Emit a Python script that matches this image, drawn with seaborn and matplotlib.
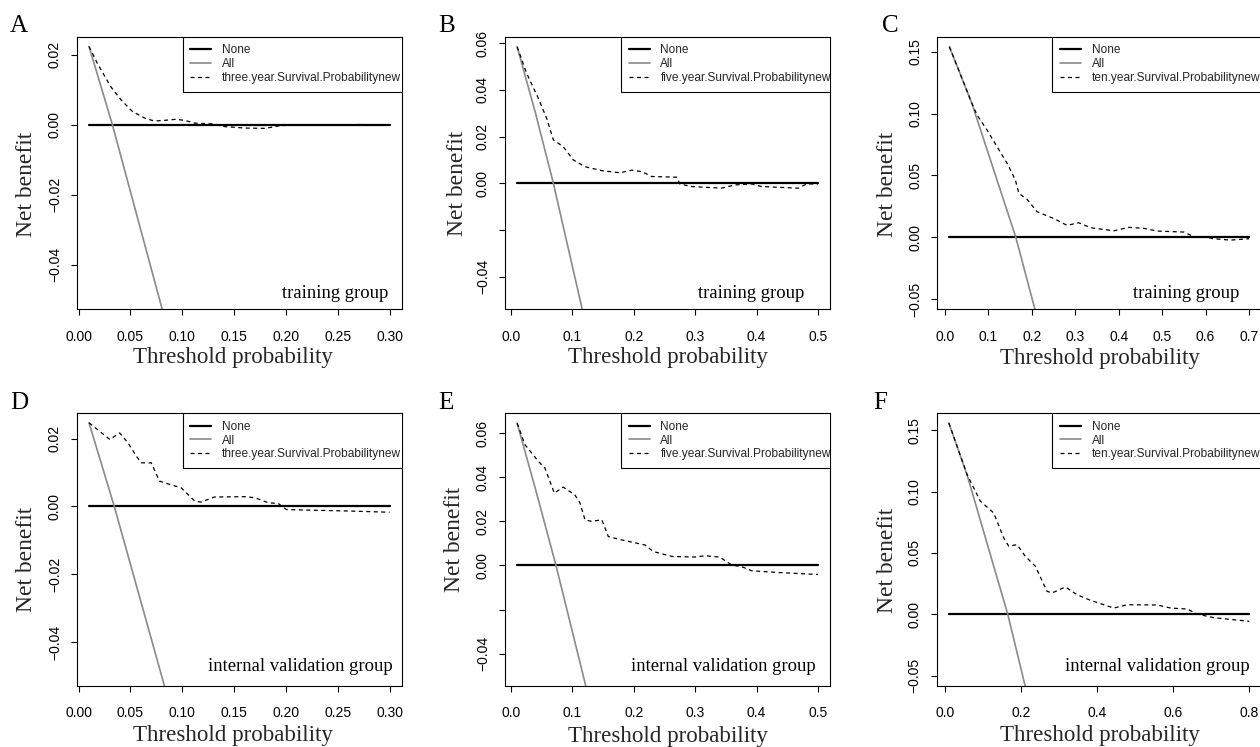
import matplotlib
matplotlib.use("Agg")
import matplotlib.pyplot as plt
import pandas as pd
import seaborn as sns

# ---------------------------------------------------------------------------
# Decision-curve data: net benefit of each model across threshold probabilities
# ---------------------------------------------------------------------------
thr_a = [0.01, 0.018, 0.031, 0.041, 0.052, 0.064, 0.073, 0.083, 0.094, 0.102, 0.112,
         0.128, 0.141, 0.160, 0.180, 0.193, 0.206, 0.22, 0.25, 0.27, 0.30]
nb_a = [0.0224, 0.0176, 0.0109, 0.0071, 0.0038, 0.0019, 0.0011, 0.0013, 0.0016, 0.0013,
        0.0005, 0.0003, -0.0005, -0.0009, -0.0010, -0.0003, 0.0000, 0.0000, -0.0001,
        0.0001, 0.0000]

thr_b = [0.01, 0.0255, 0.0445, 0.058, 0.069, 0.085, 0.1015, 0.1205, 0.148, 0.1775, 0.1965,
         0.213, 0.229, 0.270, 0.275, 0.294, 0.343, 0.365, 0.392, 0.408, 0.468, 0.4815, 0.50]
nb_b = [0.0585, 0.0471, 0.0364, 0.0279, 0.0186, 0.0157, 0.0100, 0.0071, 0.0054, 0.0045,
        0.0056, 0.0050, 0.0029, 0.0026, -0.0003, -0.0014, -0.0021, -0.0007, -0.0003,
        -0.0014, -0.0021, -0.0003, -0.0003]

thr_c = [0.01, 0.062, 0.0737, 0.0968, 0.1198, 0.143, 0.162, 0.170, 0.189, 0.212, 0.250,
         0.281, 0.308, 0.335, 0.389, 0.423, 0.458, 0.488, 0.550, 0.573, 0.596, 0.619,
         0.657, 0.70]
nb_c = [0.154, 0.1082, 0.0988, 0.0867, 0.0732, 0.0598, 0.0463, 0.0355, 0.0307, 0.0207,
        0.0153, 0.0097, 0.0118, 0.0078, 0.0053, 0.0081, 0.0073, 0.0051, 0.0043, 0.0005,
        0.0005, -0.0011, -0.0022, -0.0011]

thr_d = [0.01, 0.0203, 0.030, 0.0396, 0.0476, 0.0556, 0.0605, 0.070, 0.078, 0.086, 0.099,
         0.112, 0.118, 0.131, 0.160, 0.170, 0.183, 0.1925, 0.2005, 0.225, 0.257, 0.30]
nb_d = [0.0247, 0.0222, 0.0198, 0.0217, 0.0188, 0.0149, 0.0129, 0.0129, 0.0075, 0.0067,
        0.0055, 0.0016, 0.0013, 0.0028, 0.0029, 0.0026, 0.0011, 0.0009, -0.0009, -0.0011,
        -0.0013, -0.0017]

thr_e = [0.01, 0.0228, 0.0445, 0.0554, 0.0706, 0.085, 0.104, 0.1124, 0.1205, 0.131, 0.148,
         0.1585, 0.180, 0.218, 0.232, 0.262, 0.30, 0.316, 0.340, 0.359, 0.378, 0.392,
         0.4355, 0.50]
nb_e = [0.0645, 0.0547, 0.0472, 0.0441, 0.0328, 0.0355, 0.0320, 0.0283, 0.0207, 0.0200,
        0.0207, 0.0131, 0.0116, 0.0093, 0.0063, 0.0041, 0.0038, 0.0044, 0.0038, 0.0003,
        -0.0008, -0.0024, -0.0032, -0.0041]

thr_f = [0.01, 0.058, 0.093, 0.128, 0.1545, 0.1675, 0.1895, 0.211, 0.2375, 0.268, 0.2815,
         0.3165, 0.347, 0.3825, 0.444, 0.479, 0.558, 0.593, 0.637, 0.663, 0.707, 0.80]
nb_f = [0.156, 0.1139, 0.0922, 0.0826, 0.0622, 0.0555, 0.0568, 0.0473, 0.0392, 0.0188,
        0.0174, 0.0223, 0.0160, 0.0114, 0.0051, 0.0078, 0.0076, 0.0051, 0.0043, 0.0002,
        -0.0028, -0.0057]

# "Treat all" strategy (runs off the bottom of each panel)
all_thr_a = [0.01, 0.0326, 0.0806]
all_nb_a = [0.0224, 0.0, -0.0527]
all_thr_b = [0.01, 0.04, 0.069, 0.116]
all_nb_b = [0.0585, 0.0300, 0.0, -0.0540]
all_thr_c = [0.01, 0.062, 0.163, 0.207]
all_nb_c = [0.154, 0.1080, 0.0, -0.0581]
all_thr_d = [0.01, 0.0344, 0.0827]
all_nb_d = [0.0247, 0.0, -0.0529]
all_thr_e = [0.01, 0.04, 0.0733, 0.1217]
all_nb_e = [0.0645, 0.0345, 0.0, -0.0545]
all_thr_f = [0.01, 0.058, 0.165, 0.2105]
all_nb_f = [0.156, 0.1137, 0.0, -0.0582]

# "Treat none" strategy spans the evaluated threshold range
none_thr_a = [0.01, 0.30]
none_thr_b = [0.01, 0.50]
none_thr_c = [0.01, 0.70]
none_thr_d = [0.01, 0.30]
none_thr_e = [0.01, 0.50]
none_thr_f = [0.01, 0.80]
none_nb = [0.0, 0.0]

model_names = ["three.year.Survival.Probabilitynew",
               "five.year.Survival.Probabilitynew",
               "ten.year.Survival.Probabilitynew"]
group_names = ["training group", "internal validation group"]
panel_letters = ["A", "B", "C", "D", "E", "F"]

xt_30 = [0.00, 0.05, 0.10, 0.15, 0.20, 0.25, 0.30]
xt_30_lab = ["0.00", "0.05", "0.10", "0.15", "0.20", "0.25", "0.30"]
xt_50 = [0.0, 0.1, 0.2, 0.3, 0.4, 0.5]
xt_50_lab = ["0.0", "0.1", "0.2", "0.3", "0.4", "0.5"]
xt_70 = [0.0, 0.1, 0.2, 0.3, 0.4, 0.5, 0.6, 0.7]
xt_70_lab = ["0.0", "0.1", "0.2", "0.3", "0.4", "0.5", "0.6", "0.7"]
xt_80 = [0.0, 0.2, 0.4, 0.6, 0.8]
xt_80_lab = ["0.0", "0.2", "0.4", "0.6", "0.8"]

yt_3yr = [-0.04, -0.02, 0.00, 0.02]
yt_3yr_lab = ["\u22120.04", "\u22120.02", "0.00", "0.02"]
yt_5yr = [-0.04, -0.02, 0.00, 0.02, 0.04, 0.06]
yt_5yr_lab = ["\u22120.04", "", "0.00", "0.02", "0.04", "0.06"]
yt_10yr = [-0.05, 0.00, 0.05, 0.10, 0.15]
yt_10yr_lab = ["\u22120.05", "0.00", "0.05", "0.10", "0.15"]

# ---------------------------------------------------------------------------
# Styling
# ---------------------------------------------------------------------------
sns.set_style("ticks")
plt.rcParams["font.family"] = ["Liberation Sans", "DejaVu Sans"]
plt.rcParams["axes.edgecolor"] = "black"
plt.rcParams["axes.linewidth"] = 0.8

SERIF = ["Liberation Serif", "DejaVu Serif"]
W, H = 1260, 747
fig = plt.figure(figsize=(W / 100, H / 100), dpi=100)
fig.patch.set_facecolor("white")

# layout of each panel in pixel units (left, top, right, bottom)
panels = [
    dict(box=(77.0, 36.7, 401.6, 309.3), xlim=(-0.0016, 0.3116), ylim=(-0.0527, 0.0252),
         thr=thr_a, nb=nb_a, all_thr=all_thr_a, all_nb=all_nb_a, none_thr=none_thr_a,
         xt=xt_30, xtl=xt_30_lab, yt=yt_3yr, ytl=yt_3yr_lab, model=model_names[0],
         group=group_names[0], leg_left=182.7, grp_xy=(281.7, 297.7),
         letter_xy=(10, 31.5), xlab_xy=(233.3, 363.3), ylab_xy=(31.7, 184.0)),
    dict(box=(505.1, 36.7, 830.0, 309.3), xlim=(-0.0096, 0.5196), ylim=(-0.0540, 0.0628),
         thr=thr_b, nb=nb_b, all_thr=all_thr_b, all_nb=all_nb_b, none_thr=none_thr_b,
         xt=xt_50, xtl=xt_50_lab, yt=yt_5yr, ytl=yt_5yr_lab, model=model_names[1],
         group=group_names[0], leg_left=621.0, grp_xy=(698.3, 297.7),
         letter_xy=(438.3, 31.5), xlab_xy=(668.3, 363.3), ylab_xy=(462.7, 183.5)),
    dict(box=(937.4, 36.7, 1261.0, 309.3), xlim=(-0.0176, 0.7276), ylim=(-0.0581, 0.1621),
         thr=thr_c, nb=nb_c, all_thr=all_thr_c, all_nb=all_nb_c, none_thr=none_thr_c,
         xt=xt_70, xtl=xt_70_lab, yt=yt_10yr, ytl=yt_10yr_lab, model=model_names[2],
         group=group_names[0], leg_left=1052.3, grp_xy=(1132.7, 297.7),
         letter_xy=(881.7, 31.5), xlab_xy=(1099.7, 363.7), ylab_xy=(893.3, 184.0)),
    dict(box=(77.0, 413.0, 401.6, 685.7), xlim=(-0.0016, 0.3116), ylim=(-0.0529, 0.0276),
         thr=thr_d, nb=nb_d, all_thr=all_thr_d, all_nb=all_nb_d, none_thr=none_thr_d,
         xt=xt_30, xtl=xt_30_lab, yt=yt_3yr, ytl=yt_3yr_lab, model=model_names[0],
         group=group_names[1], leg_left=182.7, grp_xy=(208.3, 670.7),
         letter_xy=(10, 409.0), xlab_xy=(233.0, 741.3), ylab_xy=(31.7, 559.7)),
    dict(box=(505.1, 413.0, 830.0, 685.7), xlim=(-0.0096, 0.5196), ylim=(-0.0545, 0.0691),
         thr=thr_e, nb=nb_e, all_thr=all_thr_e, all_nb=all_nb_e, none_thr=none_thr_e,
         xt=xt_50, xtl=xt_50_lab, yt=yt_5yr, ytl=yt_5yr_lab, model=model_names[1],
         group=group_names[1], leg_left=621.0, grp_xy=(630.7, 670.7),
         letter_xy=(438.3, 409.0), xlab_xy=(668.0, 742.0), ylab_xy=(460.0, 539.7)),
    dict(box=(936.8, 413.0, 1261.3, 685.7), xlim=(-0.0216, 0.8316), ylim=(-0.0582, 0.1641),
         thr=thr_f, nb=nb_f, all_thr=all_thr_f, all_nb=all_nb_f, none_thr=none_thr_f,
         xt=xt_80, xtl=xt_80_lab, yt=yt_10yr, ytl=yt_10yr_lab, model=model_names[2],
         group=group_names[1], leg_left=1052.3, grp_xy=(1065.0, 670.7),
         letter_xy=(873.3, 409.0), xlab_xy=(1099.7, 741.3), ylab_xy=(893.3, 560.5)),
]


def fx(px):
    return px / W


def fy(py):
    return 1 - py / H


for letter, p in zip(panel_letters, panels):
    left, top, right, bottom = p["box"]
    ax = fig.add_axes([fx(left), fy(bottom), (right - left) / W, (bottom - top) / H])
    ax.set_facecolor("white")

    none_df = pd.DataFrame({"thr": p["none_thr"], "nb": none_nb})
    all_df = pd.DataFrame({"thr": p["all_thr"], "nb": p["all_nb"]})
    model_df = pd.DataFrame({"thr": p["thr"], "nb": p["nb"]})

    sns.lineplot(data=none_df, x="thr", y="nb", ax=ax, color="black", lw=1.6,
                 errorbar=None, label="None")
    sns.lineplot(data=all_df, x="thr", y="nb", ax=ax, color="#8a8a8a", lw=1.2,
                 errorbar=None, label="All")
    sns.lineplot(data=model_df, x="thr", y="nb", ax=ax, color="black", lw=0.9,
                 linestyle=(0, (3.2, 2.8)), errorbar=None, label=p["model"])

    ax.set_xlim(*p["xlim"])
    ax.set_ylim(*p["ylim"])
    ax.set_xticks(p["xt"], p["xtl"])
    ax.set_yticks(p["yt"], p["ytl"], rotation=90, va="center")
    ax.tick_params(axis="both", direction="out", length=4.3, width=0.8,
                   color="black", labelsize=10, labelcolor="black")
    ax.tick_params(axis="x", pad=10.6)
    ax.tick_params(axis="y", pad=6.6)
    for s in ax.spines.values():
        s.set_visible(True)
        s.set_color("black")
        s.set_linewidth(0.8)

    # axis titles
    ax.set_xlabel("Threshold probability", family=SERIF, fontsize=16.6)
    ax.xaxis.set_label_coords(fx(p["xlab_xy"][0]), fy(p["xlab_xy"][1]),
                              transform=fig.transFigure)
    ax.xaxis.label.set_va("baseline")
    ax.xaxis.label.set_ha("center")
    ax.set_ylabel("Net benefit", family=SERIF, fontsize=16.9)
    ax.yaxis.set_label_coords(fx(p["ylab_xy"][0]), fy(p["ylab_xy"][1]),
                              transform=fig.transFigure)
    ax.yaxis.label.set_rotation_mode("anchor")
    ax.yaxis.label.set_va("baseline")
    ax.yaxis.label.set_ha("center")

    # legend box in the upper right, clipped by the plotting region
    width = right - left
    leg = ax.legend(loc="upper left", bbox_to_anchor=((p["leg_left"] - left) / width, 1.0),
                    borderaxespad=0, frameon=True, fancybox=False, shadow=False,
                    edgecolor="black", facecolor="white", framealpha=1,
                    fontsize=8.6, handlelength=1.75, handletextpad=0.9,
                    borderpad=0.65, labelspacing=0.15)
    leg.get_frame().set_linewidth(0.8)
    leg.get_frame().set_clip_box(ax.bbox)
    leg.get_frame().set_clip_on(True)
    for t in leg.get_texts():
        t.set_clip_box(ax.bbox)
        t.set_clip_on(True)

    # cohort annotation and panel letter
    fig.text(fx(p["grp_xy"][0]), fy(p["grp_xy"][1]), p["group"], family=SERIF,
             fontsize=13.4, ha="left", va="baseline", color="black")
    fig.text(fx(p["letter_xy"][0]), fy(p["letter_xy"][1]), letter, family=SERIF,
             fontsize=18, ha="left", va="baseline", color="black")

fig.savefig("out.png", dpi=100, facecolor="white")
